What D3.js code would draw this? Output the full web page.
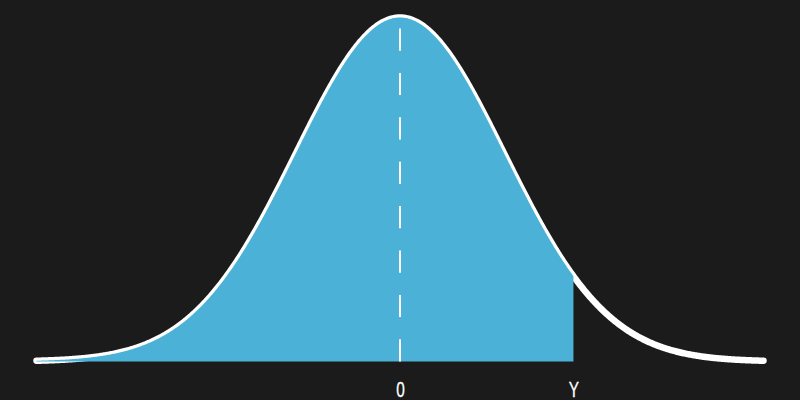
<!DOCTYPE html>
<html>
<head>
<meta charset="utf-8">
<script src="https://cdn.jsdelivr.net/npm/d3@7"></script>
<style>
  html, body { margin: 0; padding: 0; background: #1b1b1b; }
  svg { display: block; }
</style>
</head>
<body>
<svg id="chart" width="800" height="400"></svg>
<script>
// ---- data ----
const xDomain = [-3.5, 3.5];          // standard-normal range shown
const distMean = 0;
const distSd = 1;
const cutoff = 1.67;                  // position of "Y"
const tickValues = [0, 1.67];
const tickLabels = ["0", "Y"];

// ---- layout ----
const W = 800, H = 400;
const svg = d3.select("#chart");
svg.append("rect").attr("width", W).attr("height", H).attr("fill", "#1b1b1b");

const x = d3.scaleLinear().domain(xDomain).range([36.5, 763.5]);
const pdf = v => Math.exp(-0.5 * ((v - distMean) / distSd) ** 2) / (distSd * Math.sqrt(2 * Math.PI));
const y = d3.scaleLinear().domain([0, pdf(distMean)]).range([361.5, 17.5]);

const xs = d3.range(0, 701).map(i => xDomain[0] + (xDomain[1] - xDomain[0]) * i / 700);
const curve = xs.map(v => ({ x: v, y: pdf(v) }));
const shaded = curve.filter(d => d.x <= cutoff).concat([{ x: cutoff, y: pdf(cutoff) }]);

const line = d3.line().x(d => x(d.x)).y(d => y(d.y)).curve(d3.curveLinear);
const area = d3.area().x(d => x(d.x)).y0(y(0)).y1(d => y(d.y));

svg.append("path")
  .datum(curve)
  .attr("d", line)
  .attr("fill", "none")
  .attr("stroke", "#ffffff")
  .attr("stroke-width", 6.5)
  .attr("stroke-linecap", "round")
  .attr("stroke-linejoin", "round");

svg.append("path")
  .datum(shaded)
  .attr("d", area)
  .attr("fill", "#4cb1d6");

// dashed mean line, drawn from the baseline upward
svg.append("line")
  .attr("x1", x(distMean)).attr("x2", x(distMean))
  .attr("y1", y(0)).attr("y2", y(pdf(distMean)))
  .attr("stroke", "#ffffff")
  .attr("stroke-width", 2)
  .attr("stroke-dasharray", "22.2,22.2");

// tick labels
const axis = d3.axisBottom(x).tickValues(tickValues).tickFormat((d, i) => tickLabels[i]).tickSize(0).tickPadding(0);
const g = svg.append("g").attr("transform", `translate(0,${y(0)})`).call(axis);
g.select(".domain").remove();
g.attr("font-size", null).attr("font-family", null);
g.selectAll(".tick text")
  .attr("y", 0)
  .attr("dy", null)
  .attr("fill", "#ffffff")
  .style("font-family", "'Liberation Sans', 'Roboto', sans-serif")
  .style("font-size", "22px")
  .attr("stroke", "#ffffff")
  .attr("stroke-width", 0.3)
  .attr("transform", "translate(0,35.5) scale(0.7,1)");
</script>
</body>
</html>
